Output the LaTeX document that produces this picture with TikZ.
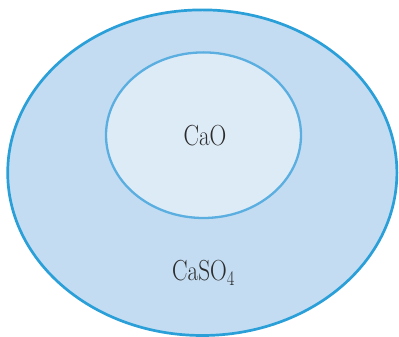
\documentclass[tikz,border=0pt]{standalone}
\usepackage{graphicx}
\definecolor{outerfill}{HTML}{C3DCF2}
\definecolor{outerline}{HTML}{2A9FD8}
\definecolor{innerfill}{HTML}{DDEBF7}
\definecolor{innerline}{HTML}{5AAEE0}
\definecolor{txt}{HTML}{2B2B2B}
\begin{document}
\begin{tikzpicture}[x=1pt,y=1pt,
  lab/.style={text=txt, font=\fontsize{29}{32}\selectfont, inner sep=0pt}]
\useasboundingbox (0,0) rectangle (399,337);
\fill[outerfill,draw=outerline,line width=2.7pt] (202.3,164.3) ellipse [x radius=194.6, y radius=162.8];
\fill[innerfill,draw=innerline,line width=2.3pt] (203.5,201.8) ellipse [x radius=97.5, y radius=82.8];
\node[lab, anchor=base] (cao) at (205,191) {\scalebox{0.8}[1]{CaO}};
\node[lab, anchor=base] (caso) at (203.5,56) {\scalebox{0.8}[1]{CaSO$_4$}};
\end{tikzpicture}
\end{document}
